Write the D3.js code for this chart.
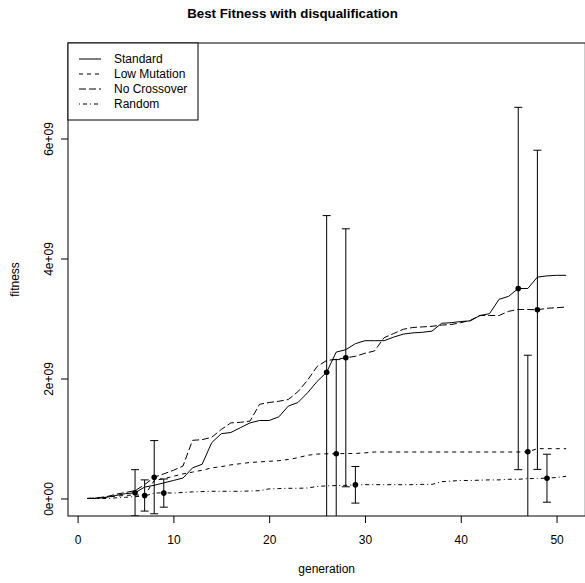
<!DOCTYPE html>
<html>
<head>
<meta charset="utf-8">
<script src="https://cdn.jsdelivr.net/npm/d3@7"></script>
<style>
  body { margin: 0; background: #fff; }
  svg { display: block; font-family: "Liberation Sans", Arial, sans-serif; }
</style>
</head>
<body>
<svg id="chart" width="585" height="583"></svg>
<script>
// values are in units of 1e9
var generations = d3.range(1, 52);
var seriesNames = ["Standard", "Low Mutation", "No Crossover", "Random"];
var dashes = ["", "4,4", "7,3", "1,3,4,3"];

var standard = [0, 0, 0.02, 0.05, 0.08, 0.095, 0.19, 0.22, 0.26, 0.3,
  0.34, 0.51, 0.57, 0.93, 1.08, 1.1, 1.18, 1.26, 1.3, 1.3,
  1.36, 1.54, 1.6, 1.76, 1.95, 2.105, 2.44, 2.48, 2.58, 2.63,
  2.63, 2.63, 2.69, 2.74, 2.76, 2.77, 2.79, 2.92, 2.93, 2.95,
  2.96, 3.05, 3.08, 3.32, 3.37, 3.5, 3.5, 3.69, 3.71, 3.72, 3.72];
var lowMutation = [0, 0.01, 0.02, 0.04, 0.05, 0.06, 0.05, 0.3, 0.33, 0.37,
  0.41, 0.44, 0.47, 0.51, 0.53, 0.56, 0.58, 0.6, 0.61, 0.62,
  0.63, 0.65, 0.68, 0.72, 0.74, 0.745, 0.745, 0.75, 0.75, 0.76,
  0.775, 0.775, 0.775, 0.775, 0.775, 0.775, 0.775, 0.775, 0.775, 0.775,
  0.775, 0.775, 0.775, 0.775, 0.775, 0.775, 0.778, 0.83, 0.83, 0.83, 0.83];
var noCrossover = [0, 0.01, 0.03, 0.07, 0.1, 0.13, 0.23, 0.355, 0.41, 0.47,
  0.54, 0.97, 0.98, 1.02, 1.15, 1.26, 1.27, 1.29, 1.57, 1.6,
  1.62, 1.65, 1.78, 1.97, 2.2, 2.3, 2.32, 2.345, 2.37, 2.42,
  2.46, 2.68, 2.75, 2.82, 2.85, 2.86, 2.87, 2.89, 2.9, 2.93,
  2.97, 3.05, 3.05, 3.05, 3.12, 3.15, 3.15, 3.145, 3.17, 3.18, 3.19];
var random = [0, 0, 0, 0.01, 0.02, 0.03, 0.04, 0.09, 0.095, 0.09,
  0.1, 0.11, 0.115, 0.12, 0.12, 0.12, 0.12, 0.125, 0.13, 0.16,
  0.165, 0.17, 0.17, 0.175, 0.2, 0.21, 0.215, 0.22, 0.228, 0.23,
  0.23, 0.23, 0.23, 0.23, 0.23, 0.235, 0.235, 0.28, 0.29, 0.3,
  0.3, 0.305, 0.31, 0.31, 0.32, 0.32, 0.33, 0.335, 0.338, 0.35, 0.37];

// error bars, one row per series
var errGens = [[6, 26, 46], [7, 27, 47], [8, 28, 48], [9, 29, 49]];
var errMeans = [[0.095, 2.105, 3.5], [0.05, 0.745, 0.778], [0.355, 2.345, 3.145], [0.09, 0.228, 0.338]];
var errSd = [[0.385, 2.61, 3.02], [0.26, 1.57, 1.61], [0.61, 2.15, 2.66], [0.235, 0.305, 0.4]];

var xTicks = [0, 10, 20, 30, 40, 50];
var yTicks = [0, 2, 4, 6];
var yTickLabels = ["0e+00", "2e+09", "4e+09", "6e+09"];

var series = [standard, lowMutation, noCrossover, random];

// plot region
var pLeft = 68, pRight = 585.3, pTop = 43, pBottom = 516;

var svg = d3.select('#chart');

var x = d3.scaleLinear().domain([-1, 53]).range([pLeft, pRight]);
var y = d3.scaleLinear().domain([-0.292, 7.592]).range([pBottom, pTop]);

svg.append('defs').append('clipPath').attr('id', 'plotclip')
  .append('rect')
  .attr('x', pLeft).attr('y', pTop)
  .attr('width', pRight - pLeft).attr('height', pBottom - pTop);

var plot = svg.append('g').attr('clip-path', 'url(#plotclip)');

var line = d3.line()
  .x(function (d, i) { return x(generations[i]); })
  .y(function (d) { return y(d); });

plot.selectAll('path.series')
  .data(series)
  .enter().append('path')
  .attr('class', 'series')
  .attr('d', line)
  .attr('fill', 'none')
  .attr('stroke', '#000')
  .attr('stroke-width', 1)
  .attr('stroke-dasharray', function (d, i) { return dashes[i] || null; });

// error bars
var bars = [];
errGens.forEach(function (gens, s) {
  gens.forEach(function (g, j) {
    bars.push({ g: g, m: errMeans[s][j], sd: errSd[s][j] });
  });
});

var eb = plot.selectAll('g.err')
  .data(bars)
  .enter().append('g').attr('class', 'err')
  .attr('stroke', '#000')
  .attr('stroke-width', 1);

eb.append('line')
  .attr('x1', function (d) { return x(d.g); })
  .attr('x2', function (d) { return x(d.g); })
  .attr('y1', function (d) { return y(d.m - d.sd); })
  .attr('y2', function (d) { return y(d.m + d.sd); });
eb.append('line')
  .attr('x1', function (d) { return x(d.g) - 4; })
  .attr('x2', function (d) { return x(d.g) + 4; })
  .attr('y1', function (d) { return y(d.m + d.sd); })
  .attr('y2', function (d) { return y(d.m + d.sd); });
eb.append('line')
  .attr('x1', function (d) { return x(d.g) - 4; })
  .attr('x2', function (d) { return x(d.g) + 4; })
  .attr('y1', function (d) { return y(d.m - d.sd); })
  .attr('y2', function (d) { return y(d.m - d.sd); });

plot.selectAll('circle.pt')
  .data(bars)
  .enter().append('circle')
  .attr('class', 'pt')
  .attr('cx', function (d) { return x(d.g); })
  .attr('cy', function (d) { return y(d.m); })
  .attr('r', 2.8)
  .attr('fill', '#000');

// box
svg.append('rect')
  .attr('x', pLeft).attr('y', pTop)
  .attr('width', pRight - pLeft).attr('height', pBottom - pTop)
  .attr('fill', 'none').attr('stroke', '#000').attr('stroke-width', 1);

// x axis
var xAxis = d3.axisBottom(x).tickValues(xTicks).tickSize(7).tickSizeOuter(0).tickPadding(12);
var gx = svg.append('g').attr('transform', 'translate(0,' + pBottom + ')').call(xAxis);
gx.select('.domain').remove();
gx.selectAll('text').attr('font-size', 12).attr('fill', '#000').attr('font-family', null);

// y axis
var yAxis = d3.axisLeft(y).tickValues(yTicks).tickSize(7).tickSizeOuter(0)
  .tickFormat(function (d, i) { return yTickLabels[i]; });
var gy = svg.append('g').attr('transform', 'translate(' + pLeft + ',0)').call(yAxis);
gy.select('.domain').remove();
gy.selectAll('text')
  .attr('font-size', 12).attr('fill', '#000').attr('font-family', null)
  .attr('x', null).attr('dy', null)
  .attr('text-anchor', 'middle')
  .attr('transform', 'translate(-15,0) rotate(-90)');

// titles
svg.append('text')
  .attr('x', 292.5).attr('y', 18)
  .attr('text-anchor', 'middle')
  .attr('font-size', 13.3).attr('font-weight', 'bold')
  .text('Best Fitness with disqualification');

svg.append('text')
  .attr('x', (pLeft + pRight) / 2).attr('y', 573)
  .attr('text-anchor', 'middle')
  .attr('font-size', 12)
  .text('generation');

svg.append('text')
  .attr('transform', 'translate(19,' + (pTop + pBottom) / 2 + ') rotate(-90)')
  .attr('text-anchor', 'middle')
  .attr('font-size', 12)
  .text('fitness');

// legend
var legend = svg.append('g');
legend.append('rect')
  .attr('x', pLeft).attr('y', pTop)
  .attr('width', 130).attr('height', 77)
  .attr('fill', '#fff').attr('stroke', '#000');

var items = legend.selectAll('g.item')
  .data(seriesNames)
  .enter().append('g').attr('class', 'item')
  .attr('transform', function (d, i) { return 'translate(0,' + (59 + i * 15) + ')'; });

items.append('line')
  .attr('x1', 79).attr('x2', 101)
  .attr('stroke', '#000')
  .attr('stroke-dasharray', function (d, i) { return dashes[i] || null; });

items.append('text')
  .attr('x', 114).attr('dy', '0.35em')
  .attr('font-size', 12)
  .text(function (d) { return d; });
</script>
</body>
</html>
